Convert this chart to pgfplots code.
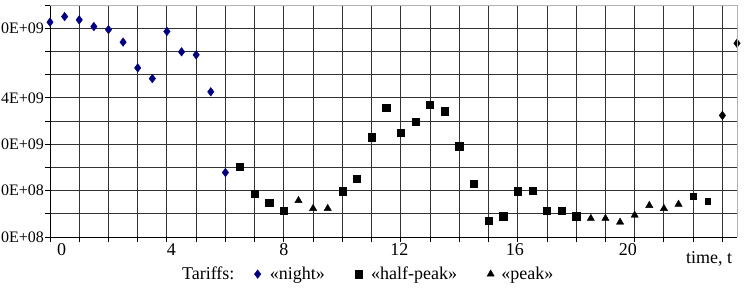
\documentclass[border=0pt]{standalone}
\usepackage{fontspec}
\setmainfont{Liberation Serif}
\usepackage{pgfplots}
\pgfplotsset{compat=1.18}
\definecolor{navy}{RGB}{0,0,128}
\begin{document}
\fontsize{18}{21}\selectfont
\begin{tikzpicture}
\begin{axis}[name=ax, scale only axis, width=687pt, height=232pt,
 xmin=0, xmax=23.5, ymin=0, ymax=10,
 axis lines=left, axis line style={-, black, line width=0.9pt},
 xtick={0,...,23}, xticklabels={},
 ytick={0,...,9}, yticklabels={0E+08,,0E+08,,0E+09,,4E+09,,,0E+09},
 extra x ticks={0.4,4.15,8,11.95,15.9,19.77}, extra x tick labels={0,4,8,12,16,20},
 extra x tick style={grid=none, major tick length=0pt},
 extra y ticks={10}, extra y tick labels={}, extra y tick style={grid=none},
 grid=major, grid style={black!80, line width=0.9pt},
 tick align=outside, major tick length=5pt, tick style={black, line width=0.9pt},
 clip=false,
 /pgf/number format/assume math mode=true,
 xticklabel style={font=\fontsize{18}{21}\selectfont},
 yticklabel style={font=\fontsize{16}{19}\selectfont, inner sep=1pt},
 xlabel={time, t},
 xlabel style={at={(axis description cs:0.993,-0.095)}, anchor=east, inner sep=0pt, font=\fontsize{18}{21}\selectfont},
 legend columns=4,
 legend style={at={(axis description cs:0.189,-0.16)}, anchor=west, draw=none, fill=none, inner sep=0pt,
   font=\fontsize{18}{21}\selectfont},
 after end axis/.code={\draw[black!30, line width=1pt] (rel axis cs:0,1) -- (rel axis cs:1,1) -- (rel axis cs:1,0);}
]
\addlegendimage{empty legend}
\addlegendentry{Tariffs:\hspace*{18pt}\mbox{}}
\addplot[only marks, mark=diamond*, mark size=4.3pt, color=navy] coordinates {
(0,9.26)(0.5,9.50)(1,9.36)(1.5,9.07)(2,8.94)(2.5,8.40)(3,7.29)(3.5,6.83)(4,8.86)(4.5,7.98)(5,7.85)(5.5,6.26)(6,2.78)};
\addlegendentry{\hspace*{7pt}«night»\hspace*{28pt}\mbox{}}
\addplot[only marks, mark=square*, mark size=3.6pt, color=black] coordinates {
(6.5,3.03)(7,1.86)(7.5,1.47)(8,1.14)(10,1.97)(10.5,2.52)(11,4.30)(11.5,5.59)(12,4.50)(12.5,4.97)(13,5.71)(13.5,5.42)(14,3.91)(14.5,2.31)(15,0.71)(15.5,0.90)(16,1.97)(16.5,2.00)(17,1.14)(17.5,1.14)(18,0.90)};
\addlegendentry{\hspace*{7pt}«half-peak»\hspace*{28pt}\mbox{}}
\addplot[only marks, mark=triangle*, mark size=4.2pt, color=black] coordinates {
(8.5,1.57)(9,1.23)(9.5,1.23)(18.5,0.80)(19,0.80)(19.5,0.64)(20,0.94)(20.5,1.36)(21,1.23)(21.5,1.41)};
\addlegendentry{\hspace*{5pt}«peak»}
\addplot[only marks, mark=square*, mark size=2.6pt, color=black, forget plot] coordinates {(22,1.76)(22.5,1.54)};
\addplot[only marks, mark=diamond*, mark size=4.3pt, color=black, forget plot] coordinates {(23,5.24)(23.5,8.35)};
\end{axis}
\pgfresetboundingbox
\useasboundingbox ([xshift=-50pt,yshift=-53pt]ax.south west) rectangle ([xshift=10pt,yshift=5pt]ax.north east);
\end{tikzpicture}
\end{document}
